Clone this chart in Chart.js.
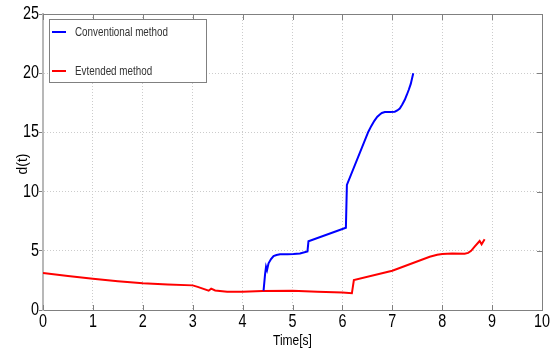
<!DOCTYPE html>
<html>
<head>
<meta charset="utf-8">
<script src="https://cdn.jsdelivr.net/npm/chart.js@4"></script>
<style>
  html, body { margin: 0; padding: 0; background: #fff; }
  #wrap { width: 555px; height: 348px; }
</style>
</head>
<body>
<div id="wrap"><canvas id="myChart" width="555" height="348"></canvas></div>
<script>
// series
const convTime  = [4.42, 4.45, 4.47, 4.49, 4.52, 4.57, 4.62, 4.68, 4.75, 4.90, 5.02, 5.15, 5.30, 5.32, 6.07, 6.09, 6.52, 6.58, 6.64, 6.70, 6.75, 6.79, 6.85, 6.95, 7.05, 7.10, 7.15, 7.20, 7.25, 7.29, 7.33, 7.37, 7.42];
const convValue = [1.63, 3.00, 3.66, 3.38, 3.94, 4.30, 4.56, 4.65, 4.70, 4.71, 4.72, 4.78, 4.95, 5.80, 6.95, 10.56, 15.06, 15.55, 15.98, 16.32, 16.52, 16.64, 16.72, 16.72, 16.75, 16.85, 17.02, 17.35, 17.75, 18.16, 18.60, 19.10, 20.00];

const extTime  = [0, 0.5, 1, 1.5, 2, 2.5, 3, 3.1, 3.32, 3.37, 3.45, 3.69, 4, 4.4, 5, 5.5, 6, 6.19, 6.23, 7, 7.75, 7.9, 8, 8.2, 8.45, 8.52, 8.58, 8.65, 8.75, 8.79, 8.85];
const extValue = [3.12, 2.88, 2.64, 2.43, 2.25, 2.15, 2.08, 1.95, 1.63, 1.80, 1.65, 1.55, 1.55, 1.60, 1.62, 1.55, 1.47, 1.41, 2.53, 3.32, 4.50, 4.66, 4.73, 4.78, 4.75, 4.82, 5.00, 5.35, 5.83, 5.55, 5.97];

const seriesNames = ['Conventional method', 'Evtended method'];
const seriesColors = ['#0000ff', '#ff0000'];
const xTicks = [0, 1, 2, 3, 4, 5, 6, 7, 8, 9, 10];
const yTicks = [0, 5, 10, 15, 20, 25];
const xTitle = 'Time[s]';
const yTitle = 'd(t)';

const sans = "'Liberation Sans', Arial, sans-serif";

function toPoints(xs, ys) {
  return xs.map((x, i) => ({ x: x, y: ys[i] }));
}

// narrow text: the original uses a condensed face, squeeze a regular one
function squeezed(ctx, text, x, y, sx, rot) {
  ctx.save();
  ctx.translate(x, y);
  if (rot) ctx.rotate(rot);
  ctx.scale(sx, 1);
  ctx.fillText(text, 0, 0);
  ctx.restore();
}

// box border, inward ticks, labels and the legend, drawn like the original
const frame = {
  id: 'frame',
  afterDraw(chart) {
    const { ctx, chartArea: a, scales } = chart;
    ctx.save();
    ctx.setLineDash([]);
    ctx.strokeStyle = '#808080';
    ctx.lineWidth = 1;
    ctx.beginPath();
    ctx.moveTo(a.left, a.top + 0.5);
    ctx.lineTo(a.right + 0.5, a.top + 0.5);
    ctx.lineTo(a.right + 0.5, a.bottom);
    ctx.stroke();
    ctx.beginPath();
    xTicks.forEach(t => {
      const px = Math.round(scales.x.getPixelForValue(t)) + 0.5;
      ctx.moveTo(px, a.top); ctx.lineTo(px, a.top + 6);
      ctx.moveTo(px, a.bottom); ctx.lineTo(px, a.bottom - 5);
    });
    yTicks.forEach(t => {
      const py = Math.round(scales.y.getPixelForValue(t)) + 0.5;
      ctx.moveTo(a.right, py); ctx.lineTo(a.right - 5, py);
    });
    ctx.stroke();

    // tick labels
    ctx.fillStyle = '#000';
    ctx.font = '18px ' + sans;
    ctx.textAlign = 'center';
    ctx.textBaseline = 'alphabetic';
    xTicks.forEach(t => squeezed(ctx, String(t), scales.x.getPixelForValue(t), 327, 0.8));
    ctx.textAlign = 'right';
    ctx.textBaseline = 'middle';
    yTicks.forEach(t => squeezed(ctx, String(t), 39, scales.y.getPixelForValue(t), 0.8));

    // axis titles
    ctx.textAlign = 'center';
    ctx.textBaseline = 'alphabetic';
    ctx.font = '15px ' + sans;
    squeezed(ctx, xTitle, (a.left + a.right) / 2, 345, 0.8);
    ctx.font = '14px ' + sans;
    ctx.textBaseline = 'middle';
    squeezed(ctx, yTitle, 23, (a.top + a.bottom) / 2 + 2, 1, -Math.PI / 2);

    // legend
    ctx.fillStyle = '#fff';
    ctx.fillRect(49.5, 19.5, 157, 63);
    ctx.strokeStyle = '#808080';
    ctx.strokeRect(49.5, 19.5, 157, 63);
    ctx.font = '12px ' + sans;
    ctx.textAlign = 'left';
    ctx.textBaseline = 'middle';
    const rows = [32, 71];
    chart.data.datasets.forEach((ds, i) => {
      ctx.strokeStyle = ds.borderColor;
      ctx.lineWidth = 2;
      ctx.beginPath();
      ctx.moveTo(52, rows[i]); ctx.lineTo(66, rows[i]);
      ctx.stroke();
      ctx.fillStyle = '#333';
      squeezed(ctx, ds.label, 75, rows[i] + 1, 0.82);
    });
    ctx.restore();
  }
};

new Chart(document.getElementById('myChart'), {
  type: 'line',
  data: {
    datasets: [
      { label: seriesNames[0], data: toPoints(convTime, convValue), borderColor: seriesColors[0], borderWidth: 2, pointRadius: 0, tension: 0 },
      { label: seriesNames[1], data: toPoints(extTime, extValue), borderColor: seriesColors[1], borderWidth: 2, pointRadius: 0, tension: 0 }
    ]
  },
  options: {
    responsive: false,
    animation: false,
    layout: { padding: { left: 0, right: 13, top: 14, bottom: 0 } },
    plugins: { legend: { display: false }, tooltip: { enabled: false } },
    scales: {
      x: {
        type: 'linear', min: 0, max: 10,
        afterBuildTicks: s => { s.ticks = xTicks.map(v => ({ value: v })); },
        afterFit: s => { s.height = 38; },
        grid: { color: '#cccccc', drawTicks: false },
        border: { color: '#808080', width: 1, dash: [1, 2] },
        ticks: { display: false }
      },
      y: {
        min: 0, max: 25,
        afterBuildTicks: s => { s.ticks = yTicks.map(v => ({ value: v })); },
        afterFit: s => { s.width = 43; },
        grid: { color: '#cccccc', tickLength: 4, tickColor: '#808080', tickBorderDash: [] },
        border: { color: '#b8b8b8', width: 2, dash: [1, 2] },
        ticks: { display: false }
      }
    }
  },
  plugins: [frame]
});
</script>
</body>
</html>
